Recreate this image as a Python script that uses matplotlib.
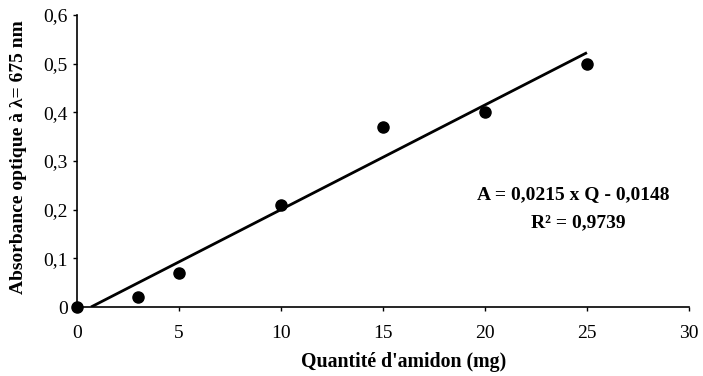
import matplotlib
matplotlib.use("Agg")
import matplotlib.pyplot as plt
import numpy as np

quantite = [0, 3, 5, 10, 15, 20, 25]
absorbance = [0.0, 0.02, 0.07, 0.21, 0.37, 0.40, 0.50]
slope = 0.0215
intercept = -0.0148
x_ticks = [0, 5, 10, 15, 20, 25, 30]
y_ticks = [0, 0.1, 0.2, 0.3, 0.4, 0.5, 0.6]
y_ticklabels = ["0", "0,1", "0,2", "0,3", "0,4", "0,5", "0,6"]

plt.rcParams['font.family'] = ['Liberation Serif', 'DejaVu Serif']

fig = plt.figure(figsize=(7.03, 3.76), dpi=100)
ax = fig.add_axes([0.1095, 0.1835, 0.8705, 0.7765])

x0 = -intercept / slope
xs = np.array([x0, 25])
ax.plot(xs, slope * xs + intercept, color='black', lw=2, solid_capstyle='butt')
ax.plot(quantite, absorbance, 'o', color='black', ms=8, clip_on=False, zorder=5)

ax.set_xlim(0, 30)
ax.set_ylim(0, 0.6)
ax.set_xticks(x_ticks)
ax.set_xticklabels([str(t) for t in x_ticks])
ax.set_yticks(y_ticks)
ax.set_yticklabels(y_ticklabels)
ax.tick_params(direction='out', length=2.8, width=1, labelsize=14)
ax.tick_params(axis='x', pad=10)
ax.tick_params(axis='y', pad=4)
for s in ['top', 'right']:
    ax.spines[s].set_visible(False)
for s in ['left', 'bottom']:
    ax.spines[s].set_linewidth(1.2)

fig.text(404/703, 1 - 362/376, "Quantité d'amidon (mg)", ha='center', va='center',
         fontsize=14.3, fontweight='bold')
fig.text(19/703, 1 - 157/376, "Absorbance optique à λ= 675 nm", ha='center', va='center',
         rotation=90, fontsize=14, fontweight='bold')

fig.text(573/703, 1 - 195/376, "A = 0,0215 x Q - 0,0148", ha='center', va='center',
         fontsize=14, fontweight='bold')
fig.text(578/703, 1 - 223/376, "R² = 0,9739", ha='center', va='center',
         fontsize=14, fontweight='bold')

fig.savefig("out.png", dpi=100)
